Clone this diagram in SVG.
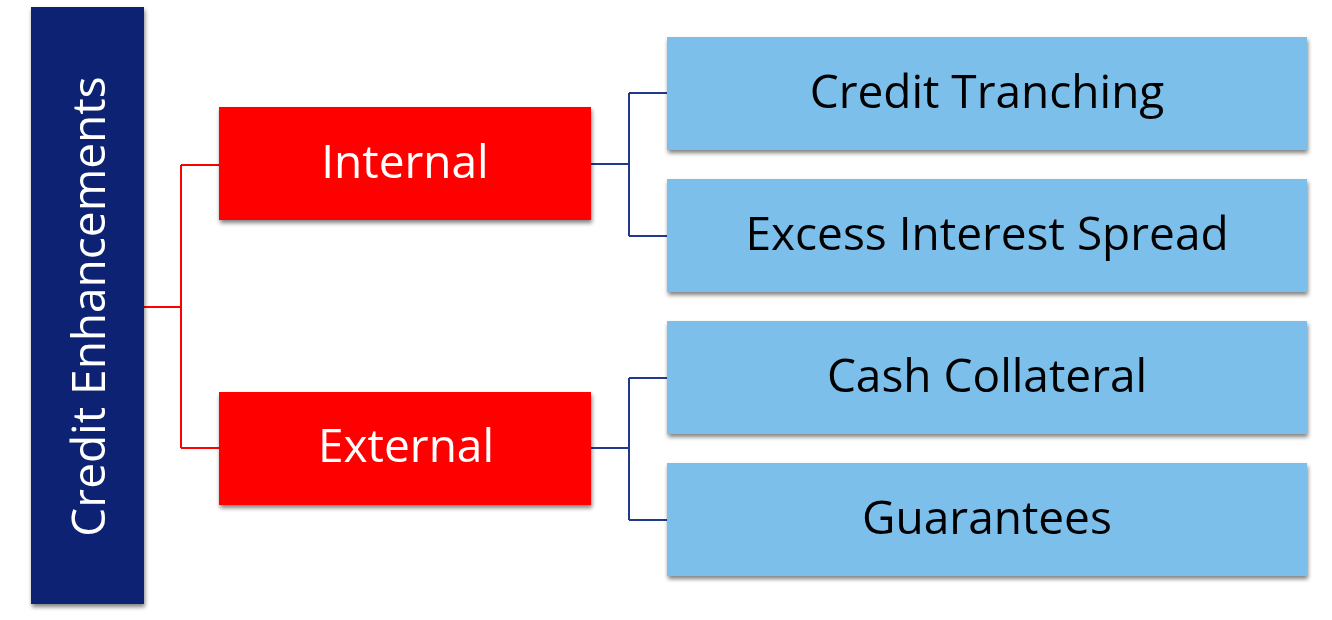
<svg xmlns="http://www.w3.org/2000/svg" width="1332" height="620" viewBox="0 0 1332 620">
<defs>
<filter id="sh" x="-10%" y="-10%" width="120%" height="130%">
<feGaussianBlur in="SourceAlpha" stdDeviation="2"/>
<feOffset dx="1" dy="3" result="b"/>
<feComponentTransfer><feFuncA type="linear" slope="0.5"/></feComponentTransfer>
<feMerge><feMergeNode/><feMergeNode in="SourceGraphic"/></feMerge>
</filter>
</defs>
<style>
.t{font-family:"Open Sans","Noto Sans","DejaVu Sans",sans-serif;font-size:46px;text-anchor:middle;dominant-baseline:central}
.w{fill:#ffffff}
.k{fill:#000000}
.root{fill:#0C2472}
.cat{fill:#FF0000}
.leaf{fill:#7BBFEA}
.rl{fill:none;stroke:#FF0000;stroke-width:2}
.bl{fill:none;stroke:#1F3A8C;stroke-width:2}
</style>
<rect width="1332" height="620" fill="#ffffff"/>
<g id="connectors">
<path class="rl" d="M144 307 H181 M181 165 V448 M181 165 H219 M181 448 H219"/>
<path class="bl" d="M591 164 H629 M629 93 V236 M629 93 H667 M629 236 H667"/>
<path class="bl" d="M591 448 H629 M629 378 V520 M629 378 H667 M629 520 H667"/>
</g>
<g id="root" filter="url(#sh)">
<rect class="root" x="31" y="7" width="113" height="597"/>
<text class="t w" transform="translate(87 306.5) rotate(-90)">Credit Enhancements</text>
</g>
<g id="internal" filter="url(#sh)">
<rect class="cat" x="219" y="107" width="372" height="113"/>
<text class="t w" x="405" y="160">Internal</text>
</g>
<g id="external" filter="url(#sh)">
<rect class="cat" x="219" y="392" width="372" height="113"/>
<text class="t w" x="406" y="444">External</text>
</g>
<g id="credit-tranching" filter="url(#sh)">
<rect class="leaf" x="667" y="37" width="640" height="113"/>
<text class="t k" x="987" y="90">Credit Tranching</text>
</g>
<g id="excess-interest-spread" filter="url(#sh)">
<rect class="leaf" x="667" y="179" width="640" height="113"/>
<text class="t k" x="987" y="232">Excess Interest Spread</text>
</g>
<g id="cash-collateral" filter="url(#sh)">
<rect class="leaf" x="667" y="321" width="640" height="113"/>
<text class="t k" x="987" y="374">Cash Collateral</text>
</g>
<g id="guarantees" filter="url(#sh)">
<rect class="leaf" x="667" y="463" width="640" height="113"/>
<text class="t k" x="987" y="516">Guarantees</text>
</g>
</svg>
